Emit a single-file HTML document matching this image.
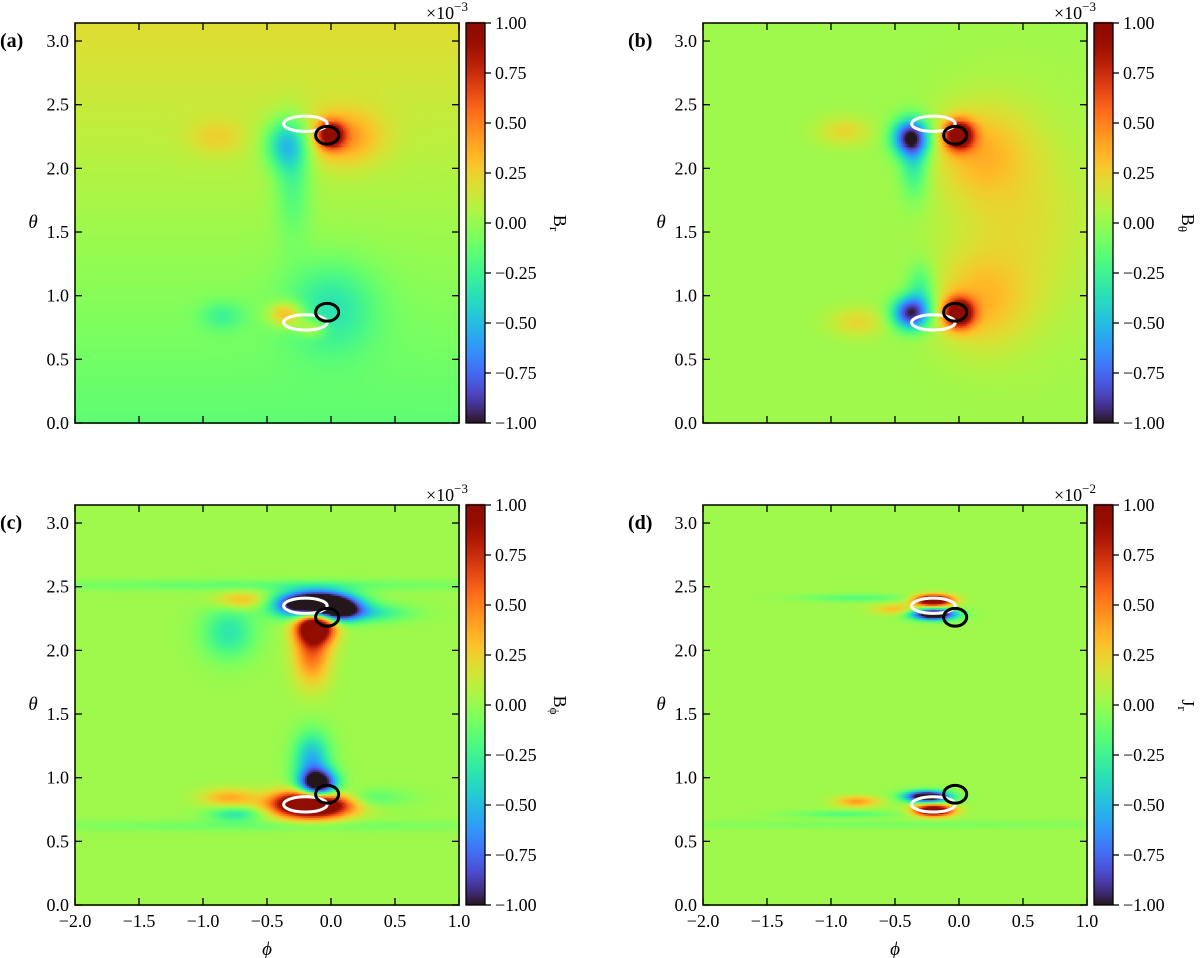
<!DOCTYPE html>
<html><head><meta charset="utf-8">
<style>
body{margin:0;background:#fff;width:1200px;height:958px;overflow:hidden;font-family:"Liberation Serif",serif;}
#root{position:relative;width:1200px;height:958px;}
canvas{position:absolute;}
svg{position:absolute;left:0;top:0;font-family:"Liberation Serif",serif;}
svg text{font-family:"Liberation Serif",serif;}
</style></head>
<body>
<div id="root">
<canvas id="cv" width="1200" height="958" style="left:0;top:0"></canvas>
<svg id="sv" width="1200" height="958"></svg>
</div>
<script>
// ---- data ----
const panelIds=['a','b','c','d'];
const cbarLabels=['B','B','B','J'];
const cbarSubs=['r','θ','ϕ','r'];
const cbarExps=['−3','−3','−3','−2'];
const xTicks=[-2.0,-1.5,-1.0,-0.5,0.0,0.5,1.0];
const yTicks=[0.0,0.5,1.0,1.5,2.0,2.5,3.0];
const cTicks=[-1.00,-0.75,-0.5,-0.25,0.0,0.25,0.5,0.75,1.00];
// background value at theta=pi (top) and theta=0 (bottom)
const bgTop=[0.2,0.02,0.02,0.02];
const bgBot=[-0.15,0.02,0.02,0.02];
// blobs: [phi, theta, sigmaPhi, sigmaTheta, amplitude]
const blobsA=[[0.0,2.27,0.07,0.07,0.9],[0.1,2.25,0.2,0.15,0.35],[-0.35,2.2,0.12,0.14,-0.5],[-0.3,1.9,0.1,0.3,-0.25],[-0.9,2.25,0.15,0.1,0.15],
[-0.35,0.86,0.1,0.07,0.45],[0.0,0.92,0.25,0.25,-0.3],[-0.85,0.85,0.12,0.08,-0.2],[-0.15,0.75,0.08,0.05,0.3]];
const blobsB=[[0.45,1.6,0.4,0.6,0.18],[-0.38,2.25,0.1,0.1,-0.95],[-0.35,2.05,0.08,0.2,-0.35],[0.0,2.27,0.08,0.08,1.1],[0.15,2.15,0.25,0.25,0.25],[-0.9,2.3,0.15,0.08,0.2],
[-0.38,0.87,0.1,0.09,-0.95],[-0.3,1.05,0.08,0.15,-0.3],[0.0,0.87,0.08,0.08,1.1],[0.15,0.95,0.25,0.25,0.25],[-0.8,0.8,0.15,0.08,0.2]];
const blobsC=[[-0.12,2.37,0.2,0.07,-1.9],[0.05,2.32,0.12,0.06,-0.6],[-0.12,2.2,0.1,0.09,1.3],[-0.15,2.0,0.1,0.18,0.55],[-0.7,2.4,0.15,0.05,0.35],[-0.8,2.15,0.15,0.15,-0.35],[0.25,2.3,0.25,0.05,-0.35],[-0.5,2.52,1.5,0.03,-0.15],
[-0.15,0.8,0.2,0.07,1.9],[-0.1,0.95,0.1,0.08,-1.3],[-0.15,1.15,0.1,0.15,-0.55],[-0.8,0.85,0.15,0.05,0.35],[-0.75,0.72,0.15,0.04,-0.35],[-0.5,0.63,1.5,0.03,-0.12],[0.2,0.85,0.25,0.05,-0.25]];
const blobsD=[[-0.2,2.4,0.1,0.03,1.4],[-0.2,2.29,0.12,0.03,-1.4],[-0.5,2.33,0.12,0.03,0.3],[-0.8,2.42,0.3,0.02,-0.2],
[-0.25,0.86,0.12,0.03,-1.4],[-0.2,0.75,0.1,0.03,1.4],[-0.8,0.82,0.12,0.03,0.4],[-0.9,0.72,0.3,0.02,-0.2],[-0.5,0.64,1.5,0.02,-0.1]];
const allBlobs=[blobsA,blobsB,blobsC,blobsD];
// contours: [phi, theta, rPhi, rTheta]
const whiteRings=[[-0.2,2.35,0.17,0.06],[-0.2,0.79,0.17,0.06]];
const blackRings=[[-0.03,2.26,0.09,0.07],[-0.03,0.87,0.09,0.07]];
// ---- layout ----
const boxes=[{x:75,y:23},{x:703,y:23},{x:75,y:505},{x:703,y:505}];
const W=384,H=400;
function sx(p,b){return b.x+(p+2)/3*W;}
function sy(t,b){return b.y+H-t/Math.PI*H;}
function cy(v,b){return b.y+H-(v+1)/2*H;}
function turbo(x){x=Math.max(0,Math.min(1,x));
const r=0.13572138+x*(4.61539260+x*(-42.66032258+x*(132.13108234+x*(-152.94239396+x*59.28637943))));
const g=0.09140261+x*(2.19418839+x*(4.84296658+x*(-14.18503333+x*(4.27729857+x*2.82956604))));
const b=0.10667330+x*(12.64194608+x*(-60.58204836+x*(110.36276771+x*(-89.90310912+x*27.34824973))));
const c=v=>Math.round(Math.max(0,Math.min(1,v))*255);return `rgb(${c(r)},${c(g)},${c(b)})`;}
const ctx=document.getElementById('cv').getContext('2d');
const NX=192,NY=200;
boxes.forEach((b,i)=>{
 for(let ix=0;ix<NX;ix++)for(let iy=0;iy<NY;iy++){
  const p=-2+(ix+0.5)/NX*3, t=(iy+0.5)/NY*Math.PI;
  let v=bgBot[i]+(bgTop[i]-bgBot[i])*t/Math.PI;
  allBlobs[i].forEach(k=>{const dx=(p-k[0])/k[2],dy=(t-k[1])/k[3];v+=k[4]*Math.exp(-0.5*(dx*dx+dy*dy));});
  ctx.fillStyle=turbo((v+1)/2);
  const x0=sx(-2+ix/NX*3,b),x1=sx(-2+(ix+1)/NX*3,b),y0=sy((iy+1)/NY*Math.PI,b),y1=sy(iy/NY*Math.PI,b);
  ctx.fillRect(Math.floor(x0),Math.floor(y0),Math.ceil(x1-x0)+1,Math.ceil(y1-y0)+1);
 }
 const cx=b.x+W+7;
 for(let k=0;k<200;k++){const v=-1+(k+0.5)/200*2;ctx.fillStyle=turbo((v+1)/2);ctx.fillRect(cx,Math.floor(cy(v+0.01,b)),19,3);}
});
const sv=document.getElementById('sv');const NS='http://www.w3.org/2000/svg';
function mk(tag,attrs,parent){const e=document.createElementNS(NS,tag);for(const k in attrs)e.setAttribute(k,attrs[k]);(parent||sv).appendChild(e);return e;}
function fmt(v,d){return (v<0?'−':'')+Math.abs(v).toFixed(d);}
boxes.forEach((b,i)=>{
 const g=mk('g',{});
 
 
 whiteRings.forEach(r=>{const e=mk('ellipse',{cx:sx(r[0],b),cy:sy(r[1],b),rx:r[2]/3*W,ry:r[3]/Math.PI*H,fill:'none',stroke:'#fff','stroke-width':3},g);
  });
 blackRings.forEach(r=>{const e=mk('ellipse',{cx:sx(r[0],b),cy:sy(r[1],b),rx:r[2]/3*W,ry:r[3]/Math.PI*H,fill:'none',stroke:'#000','stroke-width':3},g);
  });
 mk('rect',{x:b.x,y:b.y,width:W,height:H,fill:'none',stroke:'#000','stroke-width':1.5},g);
 const bottom=i>=2;
 xTicks.forEach(v=>{const x=sx(v,b);
  mk('line',{x1:x,x2:x,y1:b.y+H,y2:b.y+H-7,stroke:'#000','stroke-width':1.3},g);
  mk('line',{x1:x,x2:x,y1:b.y,y2:b.y+7,stroke:'#000','stroke-width':1.3},g);
  if(bottom){const t=mk('text',{x:x,y:b.y+H+22,'text-anchor':'middle','font-size':18},g);t.textContent=fmt(v,1);
   }
 });
 yTicks.forEach(v=>{const y=sy(v,b);
  mk('line',{x1:b.x,x2:b.x+7,y1:y,y2:y,stroke:'#000','stroke-width':1.3},g);
  mk('line',{x1:b.x+W,x2:b.x+W-7,y1:y,y2:y,stroke:'#000','stroke-width':1.3},g);
  const t=mk('text',{x:b.x-6,y:y+6,'text-anchor':'end','font-size':18},g);t.textContent=fmt(v,1);
  
 });
 const yl=mk('text',{x:b.x-42,y:b.y+H/2+5,'font-size':19,'font-style':'italic','text-anchor':'middle'},g);yl.textContent='θ';
 
 if(bottom){const xl=mk('text',{x:b.x+W/2,y:b.y+H+50,'font-size':19,'font-style':'italic','text-anchor':'middle'},g);xl.textContent='ϕ';
  }
 const pl=mk('text',{x:b.x-75,y:b.y+24,'font-size':20,'font-weight':'bold'},g);pl.textContent='('+panelIds[i]+')';
 
 const cx=b.x+W+7;
 mk('rect',{x:cx,y:b.y,width:19,height:H,fill:'none',stroke:'#000','stroke-width':1.3},g);
 cTicks.forEach(v=>{const y=cy(v,b);
  mk('line',{x1:cx+19,x2:cx+25,y1:y,y2:y,stroke:'#000','stroke-width':1.3},g);
  const t=mk('text',{x:cx+29,y:y+6,'font-size':18},g);t.textContent=fmt(v,2);
  
 });
 const ex=mk('text',{x:cx-40,y:b.y-4,'font-size':18},g);ex.textContent='×10';
 const ts=mk('tspan',{dy:-8,'font-size':13},ex);ts.textContent=cbarExps[i];
 
 const lx=cx+88,ly=b.y+H/2;
 const cl=mk('text',{x:lx,y:ly,'font-size':18,transform:`rotate(90 ${lx} ${ly})`,'text-anchor':'middle'},g);
 cl.textContent=cbarLabels[i];
 const s2=mk('tspan',{dy:4,'font-size':13},cl);s2.textContent=cbarSubs[i];
 
});
</script>
</body></html>
